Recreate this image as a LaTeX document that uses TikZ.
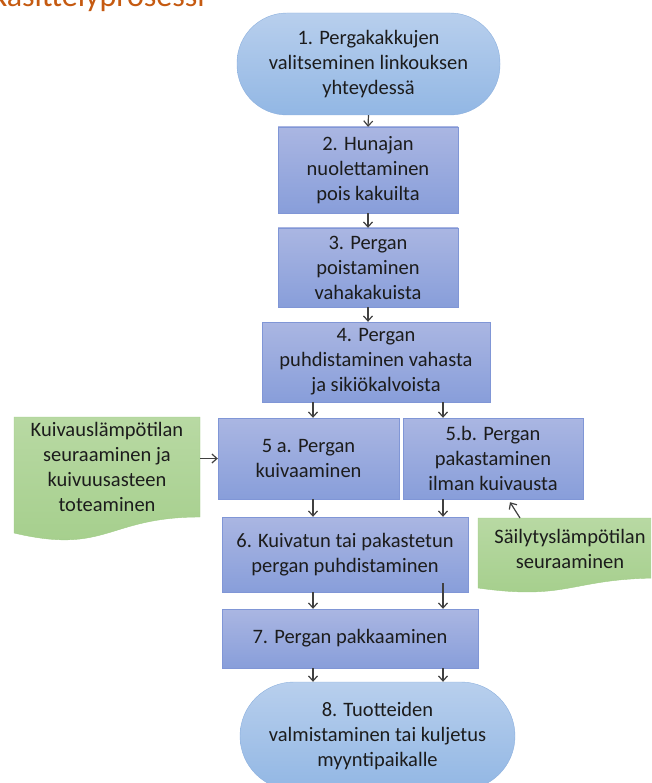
\documentclass[tikz,border=0pt]{standalone}
\usepackage{fontspec}
\setmainfont{Carlito}
\usepackage{tikz}
\usetikzlibrary{positioning, arrows.meta}
\definecolor{teksti}{RGB}{28, 28, 28}
\definecolor{harmaa}{RGB}{64, 64, 64}
\definecolor{oranssi}{RGB}{197, 90, 17}
\definecolor{sininenyla}{RGB}{170, 182, 226}
\definecolor{sininenala}{RGB}{136, 158, 218}
\definecolor{sininenreuna}{RGB}{128, 150, 214}
\definecolor{taivasyla}{RGB}{184, 207, 237}
\definecolor{taivasala}{RGB}{146, 183, 228}
\definecolor{taivasreuna}{RGB}{140, 176, 222}
\definecolor{vihreayla}{RGB}{184, 217, 163}
\definecolor{vihreaala}{RGB}{164, 206, 139}
\definecolor{vihreareuna}{RGB}{160, 204, 134}
\tikzset{
    vaihe/.style={draw=sininenreuna, top color=sininenyla, bottom color=sininenala, text=teksti, align=center, inner sep=0pt, font=\fontsize{20.5}{25}\selectfont},
    paa/.style={draw=taivasreuna, top color=taivasyla, bottom color=taivasala, text=teksti, align=center, inner sep=0pt, rounded corners=50pt, font=\fontsize{20.5}{25}\selectfont},
    huom/.style={text=teksti, align=center, inner sep=0pt, font=\fontsize{20.5}{25}\selectfont},
    lehti/.style={draw=vihreareuna, top color=vihreayla, bottom color=vihreaala},
    conn/.style={-{Straight Barb[length=5pt, width=9pt]}, harmaa, line width=1.2pt},
}

\begin{document}
\begin{tikzpicture}[x=1pt, y=-1pt]
        \useasboundingbox (0,0) rectangle (651,783);
        \clip (0,0) rectangle (651,783);

        \node [oranssi, anchor=base east, inner sep=0pt, font=\fontsize{32}{38}\selectfont] (ots) at (205,7) {Käsittelyprosessi};

        \node [paa, minimum width=263pt, minimum height=102pt] (n1) at (368.5,64) {1. Pergakakkujen\\valitseminen linkouksen\\yhteydessä};
        \node [vaihe, minimum width=180pt, minimum height=86pt] (n2) at (368,170) {2. Hunajan\\nuolettaminen\\pois kakuilta};
        \node [vaihe, minimum width=180pt, minimum height=79pt] (n3) at (368,267.5) {3. Pergan\\poistaminen\\vahakakuista};
        \node [vaihe, minimum width=228pt, minimum height=80pt] (n4) at (376,362) {4. Pergan\\puhdistaminen vahasta\\ja sikiökalvoista};
        \node [vaihe, minimum width=181pt, minimum height=81pt] (n5a) at (308.5,458.5) {5 a. Pergan\\kuivaaminen};
        \node [vaihe, minimum width=180pt, minimum height=81pt] (n5b) at (493,458.5) {5.b. Pergan\\pakastaminen\\ilman kuivausta};
        \node [vaihe, minimum width=246pt, minimum height=75pt] (n6) at (345,554.5) {6. Kuivatun tai pakastetun\\pergan puhdistaminen};
        \node [vaihe, minimum width=256pt, minimum height=59pt] (n7) at (350,638.5) {7. Pergan pakkaaminen};
        \node [paa, rounded corners=54pt, minimum width=275pt, minimum height=108pt] (n8) at (377.5,736) {8. Tuotteiden\\valmistaminen tai kuljetus\\myyntipaikalle};

        \draw [lehti] (14,417) -- (200,417) -- (200,517) .. controls (107,517) and (107,555) .. (14,533) -- cycle;
        \node [huom, minimum width=186pt, minimum height=100pt] (gL) at (107,467) {Kuivauslämpötilan\\seuraaminen ja\\kuivuusasteen\\toteaminen};
        \draw [lehti] (478,518) -- (662,518) -- (662,578) .. controls (570,578) and (570,601) .. (478,588) -- cycle;
        \node [huom, minimum width=184pt, minimum height=60pt] (gR) at (570,549) {Säilytyslämpötilan\\seuraaminen};

        \coordinate (vas) at (313,0);
        \coordinate (oik) at (443,0);
        \coordinate (c6) at (443,583);
        \coordinate (gRkarki) at (520,518);

        \draw [conn] (n1.south) -- (n2.north);
        \draw [conn] (n2.south) -- (n3.north);
        \draw [conn] (n3.south) -- (n3.south |- n4.north);
        \draw [conn] (n4.south -| vas) -- (n5a.north -| vas);
        \draw [conn] (n4.south -| oik) -- (n5b.north -| oik);
        \draw [conn] (n5a.west -| gL.east) -- (n5a.west);
        \draw [conn] (gRkarki) -- ([xshift=17pt, yshift=-3pt]n5b.south);

        \draw [conn] (n5a.south -| vas) -- (n6.north -| vas);
        \draw [conn] (n5b.south -| oik) -- (n6.north -| oik);
        \draw [conn] (n6.south -| vas) -- (n7.north -| vas);
        \draw [conn] (c6) -- (n7.north -| oik);
        \draw [conn] (n7.south -| vas) -- (n8.north -| vas);
        \draw [conn] (n7.south -| oik) -- (n8.north -| oik);
    \end{tikzpicture}
\end{document}
